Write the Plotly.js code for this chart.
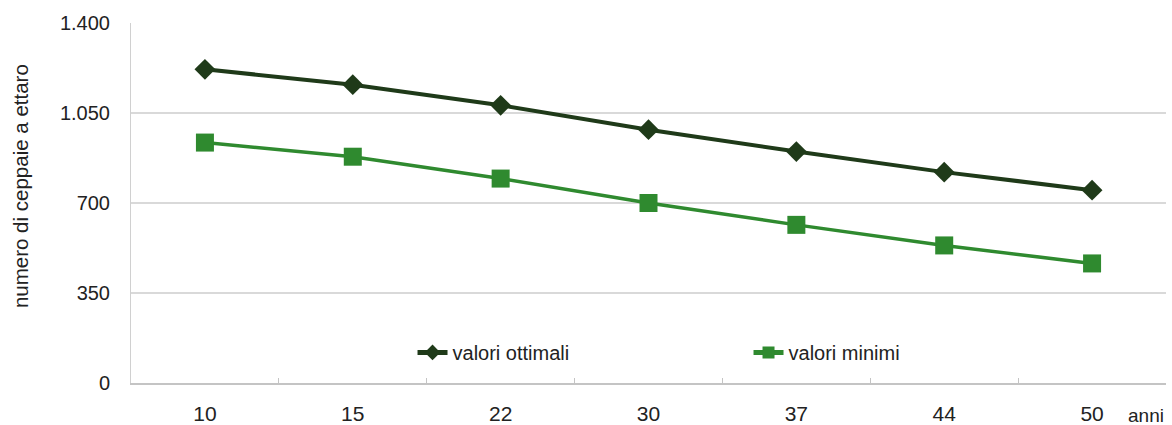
<!DOCTYPE html>
<html>
<head>
<meta charset="utf-8">
<script src="https://cdn.plot.ly/plotly-3.0.1.min.js"></script>
<style>html,body{margin:0;padding:0;background:#fff;}#chart{width:1172px;height:425px;}</style>
</head>
<body>
<div id="chart"></div>
<script>
const anni = ['10', '15', '22', '30', '37', '44', '50'];
const valoriOttimali = [1220, 1160, 1080, 985, 900, 820, 750];
const valoriMinimi = [935, 880, 795, 700, 615, 535, 465];
const yTicks = [0, 350, 700, 1050, 1400];

const traces = [
  {
    x: anni, y: valoriOttimali, name: 'valori ottimali', type: 'scatter', mode: 'lines+markers',
    line: {color: '#1f3a19', width: 4},
    marker: {symbol: 'diamond', size: 16, color: '#1f3a19'}
  },
  {
    x: anni, y: valoriMinimi, name: 'valori minimi', type: 'scatter', mode: 'lines+markers',
    line: {color: '#2f8a2f', width: 3.5},
    marker: {symbol: 'square', size: 18, color: '#2f8a2f'}
  }
];

const layout = {
  width: 1172, height: 425,
  margin: {l: 131, r: 6, t: 23, b: 42, autoexpand: false},
  paper_bgcolor: '#fff', plot_bgcolor: '#fff',
  separators: ',.',
  font: {family: 'Liberation Sans, Arial, sans-serif', color: '#222'},
  showlegend: true,
  legend: {
    orientation: 'h', x: 0.272, y: 0.085, xanchor: 'left', yanchor: 'middle',
    font: {size: 20, color: '#222'}, entrywidth: 291, entrywidthmode: 'pixels',
    bgcolor: 'rgba(0,0,0,0)', itemsizing: 'constant'
  },
  xaxis: {
    type: 'category', range: [-0.5, 6.5], showgrid: false, showline: true, linecolor: '#c4c4c4', linewidth: 1.5,
    ticks: 'inside', tickson: 'boundaries', ticklen: 5, tickcolor: '#c4c4c4',
    tickfont: {size: 21, color: '#222'}, ticklabelstandoff: 11, zeroline: false, fixedrange: true
  },
  yaxis: {
    range: [0, 1400], tickvals: yTicks, tickformat: ',d', showgrid: true, gridcolor: '#d9d9d9', gridwidth: 1.2,
    showline: true, linecolor: '#d0d0d0', linewidth: 1, zeroline: false, ticks: '',
    tickfont: {size: 20, color: '#222'}, ticklabelstandoff: 16
  },
  annotations: [
    {xref: 'paper', yref: 'paper', x: 1, y: -0.09, xanchor: 'right', yanchor: 'middle',
     text: 'anni', showarrow: false, font: {size: 19, color: '#222'}},
    {xref: 'paper', yref: 'paper', x: 0, y: 0.547, xanchor: 'center', yanchor: 'middle', xshift: -111,
     textangle: -90, text: 'numero di ceppaie a ettaro', showarrow: false, font: {size: 20.5, color: '#222'}}
  ]
};

Plotly.newPlot('chart', traces, layout, {displayModeBar: false, staticPlot: true});
</script>
</body>
</html>
